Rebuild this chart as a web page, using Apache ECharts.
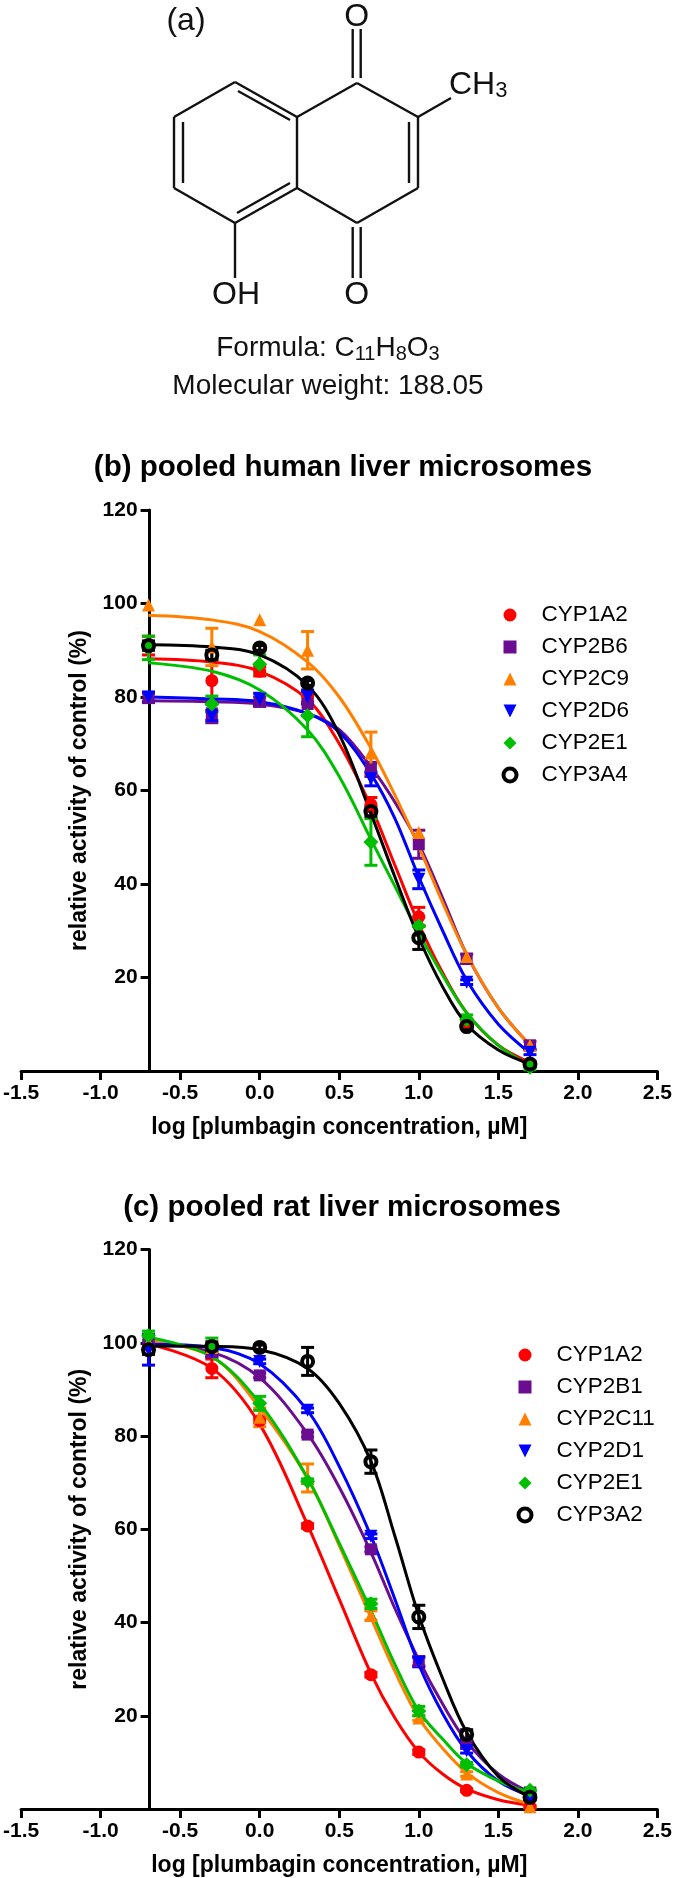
<!DOCTYPE html>
<html><head><meta charset="utf-8">
<style>html,body{margin:0;padding:0;background:#fff}#chart{width:675px;height:1878px}</style>
<script src="https://cdn.jsdelivr.net/npm/echarts@6/dist/echarts.min.js"></script>
</head><body><div id="chart"></div>
<script>
// Doses (log uM) at which the points were measured
const xPoints = [-0.699,-0.301,0,0.301,0.699,1,1.301,1.699];
const curveX = [-0.7,-0.3,0,0.3,0.5,0.7,0.85,1,1.15,1.3,1.5,1.7];
const xTicks = [-1.5,2.5,0.5];
const yTicks = [0,120,20];

// (b) human
const humanNames = ['CYP1A2','CYP2B6','CYP2C9','CYP2D6','CYP2E1','CYP3A4'];
const h1A2 = [91,83.5,85.5,80,57,33,10.5,1.5];
const h2B6 = [79.8,76.5,79,78.5,64.5,48.5,24,5.5];
const h2C9 = [99.7,90.7,96.5,90,68,51,24.5,5.5];
const h2D6 = [80,76,79.5,80,62.5,41,19,4];
const h2E1 = [90.5,78.5,87,76,49,31,11,0.8];
const h3A4 = [91,89,90.5,83,55.5,28.5,9.5,1.5];
const h1A2err = [2,4.5,1,1,1.5,2,0.5,0];
const h2B6err = [1,2,1,2.5,1.5,3,1,0.8];
const h2C9err = [0,4,0,4,4.5,0,0,0];
const h2D6err = [1,1,1.3,1.5,1.5,2,0.5,0.5];
const h2E1err = [2.5,1.7,2,4.5,5,2,1,0.5];
const h3A4err = [1,1,0.5,0.5,1,2.5,0.5,0.5];
const h1A2fit = [88.2,87.5,85.5,79.5,70,56.5,44,31.5,21,12.5,5.5,1.8];
const h2B6fit = [79.2,79,78.5,76.5,73,65,57.5,48.5,37,25,13.5,5.5];
const h2C9fit = [97.5,96.5,94,87.5,80,69,59,48,36,25,13.5,5.5];
const h2D6fit = [80,79.6,79,76.5,72.5,63.5,54,41.5,30,19.5,10,3.8];
const h2E1fit = [87.3,85.5,81.5,73,63,49.5,39.5,29.5,20.5,12.5,5.5,1.2];
const h3A4fit = [91.2,90.7,89,82.5,72,55,41.5,28.5,18,10,4.5,1.5];

// (c) rat
const ratNames = ['CYP1A2','CYP2B1','CYP2C11','CYP2D1','CYP2E1','CYP3A2'];
const r1A2 = [99.5,94.5,83.3,60.7,28.8,12.2,4,0.5];
const r2B1 = [100.5,98,93,80.3,55.7,31.7,14,3.5];
const r2C11 = [100,99,84,71,41.5,19.5,7.5,0.5];
const r2D1 = [98.5,98,96,85.5,58.5,31.5,12.5,2.5];
const r2E1 = [101.5,99.5,87,70.3,44,21,9.5,4];
const r3A2 = [98.5,99.2,99,96,74.5,41.2,16,2.5];
const r1A2err = [0.5,2,0.5,0.5,0.5,0.5,0.3,0.2];
const r2B1err = [1,1,0.5,0.5,0.5,1,0.5,0.5];
const r2C11err = [0.5,0.5,2,3,1,0.5,0.5,0.2];
const r2D1err = [3.3,1,0.5,0.5,0.5,1,0.5,0.5];
const r2E1err = [1,1.5,1.5,0.5,1,1,0.5,0.5];
const r3A2err = [1,1,0.5,3,2.5,2.5,1,0.5];
const r1A2fit = [99.8,94.5,82.5,61,45,29,19.5,12.2,7.5,4.3,2,0.8];
const r2B1fit = [100,98,92.5,80.5,69,55,43,32,22.5,14.5,7.5,3.5];
const r2C11fit = [100.5,97,86,71,56.5,41,29.5,19.5,13,7.8,3.5,1];
const r2D1fit = [99.7,99,95.5,85.5,73.5,58.5,45,31,20.5,12.5,6,2.8];
const r2E1fit = [101.2,97,87,71,57,42.5,31,21,15,9.8,6,3.5];
const r3A2fit = [99.3,99.2,98.5,94.5,87,74.5,58.5,41.5,28,16.5,7,2.5];

const colors = ['#ff0000','#6a0d91','#ff8000','#0000ff','#00bf00','#000000'];
const FONT = '"Liberation Sans", Arial, sans-serif';
const DOWN = 'path://M0,0L10,0L5,10Z';
const symbols = [
  {symbol:'circle',symbolSize:13},
  {symbol:'rect',symbolSize:12},
  {symbol:'triangle',symbolSize:13},
  {symbol:DOWN,symbolSize:13},
  {symbol:'diamond',symbolSize:15},
  {symbol:'circle',symbolSize:11,hollow:true}
];

function zip(a,b){return a.map((v,i)=>[v,b[i]]);}

function itemStyleFor(i){
  const s=symbols[i], col=colors[i];
  return s.hollow?{color:'rgba(255,255,255,0)',borderColor:col,borderWidth:4,opacity:1}:{color:col,opacity:1};
}

function panelSeries(idx,names,points,errs,fits){
  const out=[];
  names.forEach((name,i)=>{
    const col=colors[i];
    out.push({
      type:'custom',xAxisIndex:idx,yAxisIndex:idx,silent:true,clip:false,
      legendHoverLink:false,z:2+i*0.1,
      data:xPoints.map((x,k)=>[x,points[i][k],errs[i][k]]),
      renderItem(params,api){
        const x=api.value(0),y=api.value(1),e=api.value(2);
        if(!e) return {type:'group',children:[]};
        const a=api.coord([x,y+e]),b=api.coord([x,y-e]);
        const st={stroke:col,lineWidth:3,fill:null};
        return {type:'group',children:[
          {type:'line',shape:{x1:a[0],y1:a[1],x2:b[0],y2:b[1]},style:st},
          {type:'line',shape:{x1:a[0]-6.5,y1:a[1],x2:a[0]+6.5,y2:a[1]},style:st},
          {type:'line',shape:{x1:b[0]-6.5,y1:b[1],x2:b[0]+6.5,y2:b[1]},style:st}
        ]};
      }
    });
    out.push({
      type:'line',xAxisIndex:idx,yAxisIndex:idx,silent:true,showSymbol:false,symbol:'none',
      smooth:0.35,clip:false,z:2+i*0.1,animation:false,
      lineStyle:{color:col,width:3},data:zip(curveX,fits[i])
    });
  });
  names.forEach((name,i)=>{
    const s=symbols[i];
    out.push({
      type:'scatter',name,xAxisIndex:idx,yAxisIndex:idx,clip:false,silent:true,z:3+i*0.1,
      symbol:s.symbol,symbolSize:s.symbolSize,
      itemStyle:itemStyleFor(i),
      data:zip(xPoints,points[i])
    });
  });
  return out;
}

function xAxis(idx){
  return {gridIndex:idx,type:'value',min:xTicks[0],max:xTicks[1],interval:xTicks[2],
    name:'log [plumbagin concentration, µM]',nameLocation:'middle',nameGap:45,
    nameTextStyle:{fontFamily:FONT,fontWeight:'bold',fontSize:23,color:'#000'},
    axisLine:{onZero:false,lineStyle:{color:'#000',width:3}},
    axisTick:{length:9,lineStyle:{color:'#000',width:3}},
    axisLabel:{fontFamily:FONT,fontWeight:'bold',fontSize:21,color:'#000',margin:12,showMinLabel:true,showMaxLabel:true,
      hideOverlap:false,formatter:v=>v.toFixed(1)},
    splitLine:{show:false}};
}
function yAxis(idx){
  return {gridIndex:idx,type:'value',position:'left',offset:-128.5,min:yTicks[0],max:yTicks[1],interval:yTicks[2],
    name:'relative activity of control (%)',nameLocation:'middle',nameGap:50,nameRotate:90,
    nameTextStyle:{fontFamily:FONT,fontWeight:'bold',fontSize:23,color:'#000'},
    axisLine:{show:true,onZero:false,lineStyle:{color:'#000',width:3}},
    axisTick:{show:true,length:9,lineStyle:{color:'#000',width:3}},
    axisLabel:{fontFamily:FONT,fontWeight:'bold',fontSize:21,color:'#000',margin:12,
      formatter:v=>v===0?'':String(v)},
    splitLine:{show:false}};
}
function legend(names,left,top){
  return {data:names.map((name,i)=>({name,icon:symbols[i].symbol==='rect'?'rect':symbols[i].symbol,itemStyle:itemStyleFor(i)})),
    orient:'vertical',left,top,itemWidth:13,itemHeight:13,itemGap:8,
    selectedMode:false,textStyle:{fontFamily:FONT,fontSize:22.5,color:'#000',lineHeight:24,padding:[0,0,0,20]}};
}

// Structure (a): skeleton bond ends, drawn as annotation graphics
const bonds = [
 [235,82,297,117],[297,117,297,188],[297,188,235,223],[235,223,174,188],[174,188,174,117],[174,117,235,82],
 [297,117,357,83],[357,83,418,117],[418,117,418,188],[418,188,357,223],[357,223,297,188],
 [183,122,183,183],[238,91,290,120],[237,213,290,183],[409,122,409,183],
 [352.7,29,352.7,78],[360.7,29,360.7,78],[352.7,227,352.7,278],[360.7,227,360.7,278],
 [235,223,235,278],[418,117,451,98]
];
const molText = {fontFamily:FONT,fontSize:32,fill:'#111'};
const graphic = bonds.map(b=>({type:'line',silent:true,shape:{x1:b[0],y1:b[1],x2:b[2],y2:b[3]},style:{stroke:'#111',lineWidth:2.4}}));
function gt(x,y,text,extra){
  return {type:'text',silent:true,x,y,style:Object.assign({},molText,{text,textAlign:'center',textVerticalAlign:'middle'},extra||{})};
}
graphic.push(gt(186,21,'(a)'));
graphic.push(gt(356.7,17,'O'));
graphic.push(gt(356.7,295,'O'));
graphic.push(gt(236,295,'OH'));
graphic.push({type:'text',silent:true,x:449,y:85,style:Object.assign({},molText,{
  text:'CH{s|3}',textAlign:'left',textVerticalAlign:'middle',rich:{s:{fontFamily:FONT,fontSize:22,fill:'#111',padding:[12,0,0,0]}}})});
graphic.push({type:'text',silent:true,x:328,y:348,style:{fontFamily:FONT,fontSize:28,fill:'#111',
  text:'Formula: C{s|11}H{s|8}O{s|3}',textAlign:'center',textVerticalAlign:'middle',rich:{s:{fontFamily:FONT,fontSize:20,fill:'#111',padding:[12,0,0,0]}}}});
graphic.push(gt(328,386,'Molecular weight: 188.05',{fontSize:28}));

const option = {
  animation:false,backgroundColor:'#fff',
  title:[
    {text:'(b) pooled human liver microsomes',left:338,top:448,textAlign:'center',
     textStyle:{fontFamily:FONT,fontWeight:'bold',fontSize:29.5,color:'#000'}},
    {text:'(c) pooled rat liver microsomes',left:337,top:1188,textAlign:'center',
     textStyle:{fontFamily:FONT,fontWeight:'bold',fontSize:29.5,color:'#000'}}
  ],
  legend:[legend(humanNames,496.5,598),legend(ratNames,511.5,1338)],
  grid:[
    {left:18,width:642.6,top:510,height:561},
    {left:18,width:642.6,top:1249.5,height:561}
  ],
  xAxis:[xAxis(0),xAxis(1)],
  yAxis:[yAxis(0),yAxis(1)],
  series:[
    ...panelSeries(0,humanNames,[h1A2,h2B6,h2C9,h2D6,h2E1,h3A4],[h1A2err,h2B6err,h2C9err,h2D6err,h2E1err,h3A4err],[h1A2fit,h2B6fit,h2C9fit,h2D6fit,h2E1fit,h3A4fit]),
    ...panelSeries(1,ratNames,[r1A2,r2B1,r2C11,r2D1,r2E1,r3A2],[r1A2err,r2B1err,r2C11err,r2D1err,r2E1err,r3A2err],[r1A2fit,r2B1fit,r2C11fit,r2D1fit,r2E1fit,r3A2fit])
  ],
  graphic
};
echarts.init(document.getElementById('chart'),null,{renderer:'canvas'}).setOption(option);
</script></body></html>
